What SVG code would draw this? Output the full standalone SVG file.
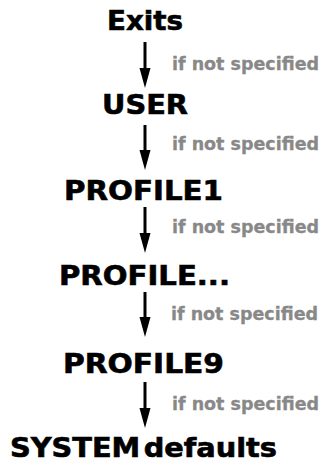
<svg xmlns="http://www.w3.org/2000/svg" width="334" height="460" viewBox="0 0 334 460">
<style>
.n{font-family:"DejaVu Sans","Verdana",sans-serif;font-weight:bold;font-size:26px;fill:#000;stroke:#000;stroke-width:0.6;text-anchor:middle}
.l{font-family:"DejaVu Sans","Verdana",sans-serif;font-weight:bold;font-size:17.5px;fill:#888;stroke:#888;stroke-width:0.3}
.a{stroke:#000;stroke-width:3;fill:none}
</style>
<g id="connectors">
<line class="a" x1="145" y1="42" x2="145" y2="70"/><path d="M139.5,68 L150.5,68 L145,88 Z"/>
<line class="a" x1="145" y1="125" x2="145" y2="152"/><path d="M139.5,150 L150.5,150 L145,170 Z"/>
<line class="a" x1="145" y1="207" x2="145" y2="235"/><path d="M139.5,233 L150.5,233 L145,253 Z"/>
<line class="a" x1="145" y1="292" x2="145" y2="319"/><path d="M139.5,317 L150.5,317 L145,337 Z"/>
<line class="a" x1="145" y1="382" x2="145" y2="410"/><path d="M139.5,408 L150.5,408 L145,428 Z"/>
<text class="l" x="172" y="70" textLength="147" lengthAdjust="spacingAndGlyphs">if not specified</text>
<text class="l" x="172" y="150" textLength="147" lengthAdjust="spacingAndGlyphs">if not specified</text>
<text class="l" x="172" y="233" textLength="147" lengthAdjust="spacingAndGlyphs">if not specified</text>
<text class="l" x="171" y="320" textLength="147" lengthAdjust="spacingAndGlyphs">if not specified</text>
<text class="l" x="172" y="410" textLength="147" lengthAdjust="spacingAndGlyphs">if not specified</text>
</g>
<g id="exits"><text class="n" x="145" y="30" textLength="76" lengthAdjust="spacingAndGlyphs">Exits</text></g>
<g id="user"><text class="n" x="145" y="114" textLength="86" lengthAdjust="spacingAndGlyphs">USER</text></g>
<g id="profile1"><text class="n" x="143.5" y="200" textLength="159" lengthAdjust="spacingAndGlyphs">PROFILE1</text></g>
<g id="profile-etc"><text class="n" x="144.5" y="285" textLength="171" lengthAdjust="spacingAndGlyphs">PROFILE...</text></g>
<g id="profile9"><text class="n" x="143.5" y="373" textLength="161" lengthAdjust="spacingAndGlyphs">PROFILE9</text></g>
<g id="system"><text class="n" x="143.5" y="457" word-spacing="-6" textLength="267" lengthAdjust="spacingAndGlyphs">SYSTEM defaults</text></g>
</svg>
